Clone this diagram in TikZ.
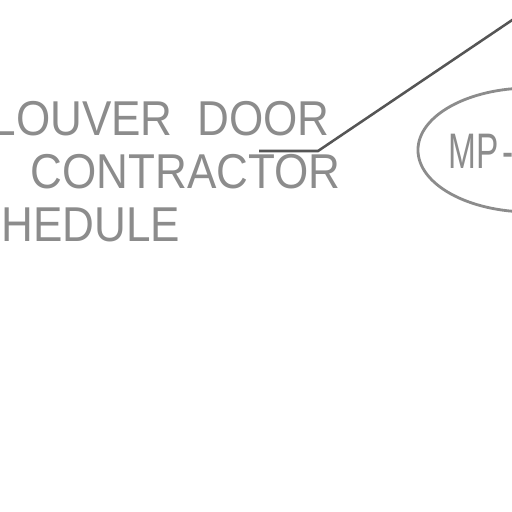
\documentclass[tikz,border=0pt]{standalone}
\usepackage{fontspec}
\setmainfont[FakeStretch=0.9]{Liberation Sans}
\newfontfamily\tagfont[FakeStretch=0.67]{Liberation Sans}
\usepackage[dvipsnames]{xcolor}
\usetikzlibrary{shapes.geometric}

\definecolor{cadgray}{RGB}{140,140,140}
\definecolor{leadgray}{RGB}{85,85,85}

\begin{document}
\begin{tikzpicture}[x=0.025cm, y=-0.025cm, line width=2.4pt, note/.style={inner sep=0, text=cadgray, font=\fontsize{34.8pt}{42pt}\selectfont}]

            \useasboundingbox (0,0) rectangle (512,512);
            \clip (0,0) rectangle (512,512);

            \node[note, anchor=base west] (1) at (-10,135) {LOUVER\hspace{0.62cm}DOOR};
            \node[note, anchor=base west] (2) at (29,188) {CONTRACTOR};
            \node[note, anchor=base west] (3) at (0,241) {HEDULE};

            \node[ellipse, draw=cadgray, line width=2pt, minimum width=5.6cm, minimum height=3.1cm] (4) at (530,150) {};
            \node[note, anchor=base west, font=\fontsize{35.5pt}{42pt}\tagfont] (5) at (447,168) {MP\hspace{0.1cm}-};

            \coordinate (6) at (259,151);
            \coordinate (7) at (318,151);
            \coordinate (8) at (530,8);

            \draw[leadgray, line width=1.8pt] (6) -- (7) -- (8);
                    \end{tikzpicture}
\end{document}
